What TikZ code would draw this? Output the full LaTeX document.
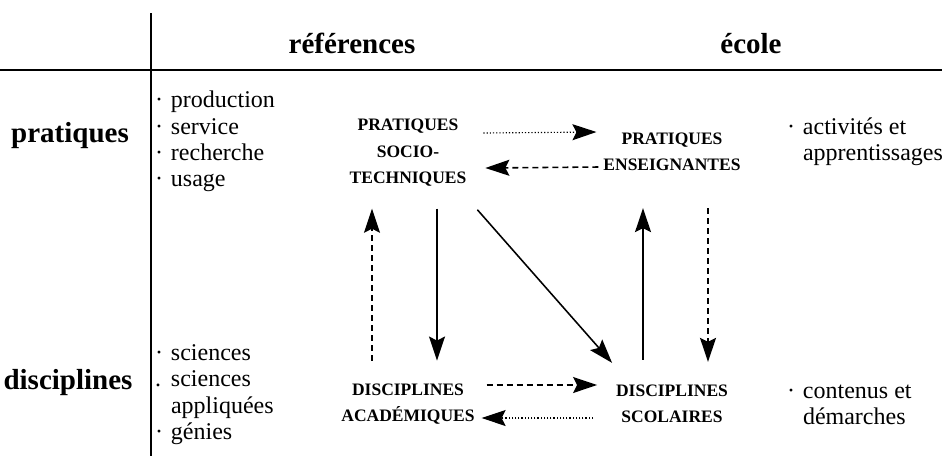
\documentclass[tikz,border=0pt]{standalone}
\usepackage{fontspec}
\setmainfont{Liberation Serif}
\usetikzlibrary{arrows.meta}
\def \globalscale {1.000000}
\newcommand{\puce}{\makebox[16pt][l]{·}}
\newcommand{\pucebas}{\makebox[16pt][l]{.}}

\begin{document}
\begin{tikzpicture}[y=-1pt, x=1pt, yscale=\globalscale, xscale=\globalscale, every node/.append style={scale=\globalscale}, inner sep=0pt, outer sep=0pt,
  rule/.style={draw=black,line width=0.07cm},
  head/.style={text=black,font=\fontsize{29}{32}\selectfont\bfseries,anchor=base},
  liste/.style={text=black,font=\fontsize{24}{26.3}\selectfont,align=left,anchor=west},
  pole/.style={text=black,font=\fontsize{17.5}{26.5}\selectfont\bfseries,align=center},
  plein/.style={draw=black,line width=0.055cm,-{Stealth[length=24pt,width=16pt,inset=4pt]}},
  tirets/.style={plein,dash pattern=on 6pt off 4pt},
  points/.style={plein,line width=0.04cm,dash pattern=on 1.2pt off 2pt}]
  \useasboundingbox (0,0) rectangle (942,456);

  \path[rule] (151,13) -- (151,456);
  \path[rule] (0,70) -- (942,70);

  \node[head] (textref) at (352,53){références};
  \node[head] (textecole) at (751,53){école};
  \node[head] (textprat) at (70,142){pratiques};
  \node[head] (textdisc) at (68,389){disciplines};

  \node[liste] (textlistprat) at (155,141.5){\puce production\\\puce service\\\puce recherche\\\puce usage};
  \node[liste] (textlistdisc) at (155,394.5){\puce sciences\\\pucebas sciences\\\phantom{\puce}appliquées\\\puce génies};
  \node[liste] (textlistact) at (787,141.5){\puce activités et\\\phantom{\puce}apprentissages};
  \node[liste] (textlistcont) at (787,405){\puce contenus et\\\phantom{\puce}démarches};

  \node[pole] (pst) at (408,153){PRATIQUES\\SOCIO-\\TECHNIQUES};
  \node[pole] (pe) at (672,152){PRATIQUES\\ENSEIGNANTES};
  \node[pole] (da) at (408,404){DISCIPLINES\\ACADÉMIQUES};
  \node[pole] (ds) at (672,404){DISCIPLINES\\SCOLAIRES};

  \draw[points] ([xshift=17pt,yshift=20pt]pst.east) -- ([xshift=-7pt,yshift=20pt]pe.west);
  \draw[tirets] ([xshift=-5pt,yshift=-15pt]pe.west) -- ([xshift=19pt,yshift=-15pt]pst.east);
  \draw[tirets] ([xshift=12pt,yshift=19pt]da.east) -- ([xshift=-19pt,yshift=19pt]ds.west);
  \draw[points] ([xshift=-23pt,yshift=-14pt]ds.west) -- ([xshift=7pt,yshift=-14pt]da.east);

  \draw[tirets] ([xshift=-36pt,yshift=23pt]da.north) -- ([xshift=-36pt,yshift=-22pt]pst.south);
  \draw[plein] ([xshift=29pt,yshift=-22pt]pst.south) -- ([xshift=29pt,yshift=23pt]da.north);
  \draw[plein] ([xshift=11pt,yshift=-23pt]pst.south east) -- ([xshift=-4pt,yshift=22pt]ds.north west);
  \draw[plein] ([xshift=-29pt,yshift=25pt]ds.north) -- ([xshift=-29pt,yshift=-37pt]pe.south);
  \draw[tirets] ([xshift=36pt,yshift=-37pt]pe.south) -- ([xshift=36pt,yshift=23pt]ds.north);

\end{tikzpicture}
\end{document}
